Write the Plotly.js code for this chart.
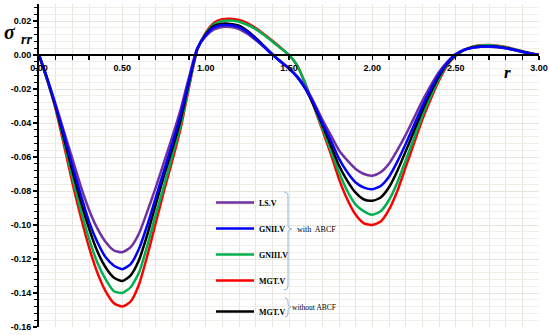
<!DOCTYPE html>
<html>
<head>
<meta charset="utf-8">
<script src="https://cdn.plot.ly/plotly-3.0.1.min.js"></script>
<style>html,body{margin:0;padding:0;background:#fff;}#chart{width:550px;height:335px;}</style>
</head>
<body>
<div id="chart"></div>
<script>
// radial positions r
const rVals = [0,0.05,0.1,0.15,0.2,0.25,0.3,0.35,0.4,0.45,0.5,0.55,0.6,0.65,0.7,0.75,0.8,0.85,0.9,0.95,1,1.05,1.1,1.15,1.2,1.25,1.3,1.35,1.4,1.45,1.5,1.55,1.6,1.65,1.7,1.75,1.8,1.85,1.9,1.95,2,2.05,2.1,2.15,2.2,2.25,2.3,2.35,2.4,2.45,2.5,2.55,2.6,2.65,2.7,2.75,2.8,2.85,2.9,2.95,3];

const lsV = [0,-0.014,-0.029,-0.045,-0.061,-0.077,-0.091,-0.102,-0.110,-0.115,-0.116,-0.113,-0.105,-0.092,-0.078,-0.063,-0.048,-0.032,-0.013,0.004,0.011,0.015,0.0165,0.0164,0.0153,0.0125,0.0088,0.0046,0.0002,-0.0038,-0.0077,-0.0125,-0.019,-0.028,-0.038,-0.047,-0.056,-0.062,-0.067,-0.070,-0.071,-0.069,-0.064,-0.056,-0.047,-0.037,-0.027,-0.018,-0.010,-0.004,0.0005,0.003,0.0042,0.0048,0.0049,0.0046,0.0039,0.0029,0.0018,0.0008,0];

const gn2V = [0,-0.014,-0.030,-0.047,-0.065,-0.082,-0.098,-0.110,-0.119,-0.124,-0.126,-0.123,-0.114,-0.100,-0.084,-0.068,-0.052,-0.035,-0.015,0.004,0.0116,0.0162,0.0176,0.0175,0.0164,0.0135,0.0095,0.005,0.0003,-0.004,-0.008,-0.013,-0.020,-0.029,-0.040,-0.050,-0.061,-0.069,-0.075,-0.078,-0.079,-0.077,-0.0716,-0.0627,-0.0523,-0.0412,-0.0301,-0.0202,-0.0114,-0.0046,0.0003,0.003,0.0043,0.0049,0.005,0.0047,0.004,0.003,0.0019,0.0008,0];

const gn3V = [0,-0.015,-0.031,-0.051,-0.072,-0.091,-0.108,-0.122,-0.132,-0.139,-0.140,-0.1366,-0.128,-0.112,-0.094,-0.077,-0.059,-0.041,-0.018,0.0035,0.0125,0.0181,0.020,0.0203,0.0196,0.0178,0.0152,0.0118,0.008,0.004,0,-0.0062,-0.0175,-0.030,-0.043,-0.056,-0.069,-0.080,-0.088,-0.092,-0.094,-0.0919,-0.0853,-0.075,-0.062,-0.0489,-0.0357,-0.0243,-0.0139,-0.0055,-0.0003,0.0029,0.0048,0.0056,0.0057,0.0053,0.0045,0.0034,0.0021,0.0009,0];

const mgtV = [0,-0.015,-0.032,-0.053,-0.075,-0.095,-0.113,-0.128,-0.139,-0.146,-0.148,-0.145,-0.135,-0.118,-0.099,-0.080,-0.062,-0.043,-0.019,0.003,0.013,0.019,0.021,0.0213,0.0206,0.0187,0.0158,0.0122,0.0084,0.0043,0,-0.0062,-0.0175,-0.0305,-0.044,-0.058,-0.073,-0.085,-0.094,-0.099,-0.100,-0.098,-0.091,-0.080,-0.066,-0.052,-0.038,-0.026,-0.015,-0.006,-0.0005,0.0028,0.0049,0.0057,0.0059,0.0055,0.0047,0.0035,0.0022,0.001,0];

const mgtNoABCF = [0,-0.0145,-0.0306,-0.049,-0.068,-0.086,-0.102,-0.1155,-0.125,-0.131,-0.133,-0.1296,-0.1206,-0.1055,-0.088,-0.071,-0.055,-0.038,-0.016,0.0035,0.012,0.0171,0.0184,0.0183,0.0172,0.0142,0.010,0.0053,0.0005,-0.0038,-0.0079,-0.013,-0.020,-0.030,-0.041,-0.053,-0.065,-0.074,-0.081,-0.085,-0.0857,-0.0838,-0.0778,-0.0682,-0.0567,-0.0447,-0.0326,-0.0221,-0.0126,-0.005,0,0.003,0.0045,0.0051,0.0052,0.0049,0.0042,0.0031,0.002,0.0009,0];

const seriesNames = ['LS.V','GNII.V','GNIII.V','MGT.V','MGT.V'];
const xTickVals = [0,0.5,1,1.5,2,2.5,3];
const xTickText = ['0.00','0.50','1.00','1.50','2.00','2.50','3.00'];
const yTickVals = [0.02,0,-0.02,-0.04,-0.06,-0.08,-0.10,-0.12,-0.14,-0.16];
const yTickText = ['0.02','0.00','-0.02','-0.04','-0.06','-0.08','-0.10','-0.12','-0.14','-0.16'];

const yMin = -0.16, yMax = 0.03;
// layout geometry (pixels)
const L = 39, T = 4, W = 500, H = 323, B = T + H;
function P(px, py){ return ((px - L) / W).toFixed(4) + ',' + ((B - py) / H).toFixed(4); }
function brace(x0, yTop, yBot, yTip, w){
  const m = x0 + w / 2, r = 4;
  return 'M' + P(x0, yTop) + ' Q' + P(m, yTop) + ' ' + P(m, yTop + r) +
         ' L' + P(m, yTip - r) + ' Q' + P(m, yTip) + ' ' + P(x0 + w, yTip) +
         ' Q' + P(m, yTip) + ' ' + P(m, yTip + r) +
         ' L' + P(m, yBot - r) + ' Q' + P(m, yBot) + ' ' + P(x0, yBot);
}
function note(px, py, text, font){
  return {xref: 'paper', yref: 'paper', x: (px - L) / W, y: (B - py) / H, text: text,
          showarrow: false, xanchor: 'center', yanchor: 'middle', font: font};
}

function tr(y, name, color, rank, legend, grp){
  return {x: rVals, y: y, name: name, type: 'scatter', mode: 'lines',
    line: {color: color, width: 2.5, shape: 'spline', smoothing: 0.6},
    legendrank: rank, legend: legend, legendgroup: grp, hoverinfo: 'skip'};
}

const data = [
  tr(mgtV, seriesNames[3], '#ff0000', 4, 'legend', 'g4'),
  tr(gn3V, seriesNames[2], '#00b050', 3, 'legend', 'g3'),
  tr(mgtNoABCF, seriesNames[4], '#000000', 5, 'legend2', 'g5'),
  tr(lsV, seriesNames[0], '#7030a0', 1, 'legend', 'g1'),
  tr(gn2V, seriesNames[1], '#0000ff', 2, 'legend', 'g2')
];

const tickFont = {family: 'Liberation Sans, Arial, sans-serif', size: 9, color: '#000', weight: 'bold'};
const gridCol = '#e6e6de';
const legFont = {family: 'Liberation Serif, Times New Roman, serif', size: 8, color: '#000', weight: 'bold'};

const layout = {
  width: 550, height: 335,
  margin: {l: L, r: 550 - L - W, t: T, b: 335 - B, pad: 0},
  paper_bgcolor: '#fff', plot_bgcolor: '#fff',
  showlegend: true,
  xaxis: {
    range: [0, 3], anchor: 'free', position: (0 - yMin) / (yMax - yMin),
    tickmode: 'array', tickvals: xTickVals, ticktext: xTickText,
    tickfont: tickFont, ticks: 'outside', ticklen: 4, tickwidth: 1.5, tickcolor: '#000',
    showline: true, linecolor: '#000', linewidth: 2,
    showgrid: true, gridcolor: gridCol, gridwidth: 1, zeroline: false,
    minor: {dtick: 0.1, tick0: 0, ticks: 'outside', ticklen: 4, tickwidth: 1.5, tickcolor: '#000', showgrid: true, gridcolor: gridCol, gridwidth: 1},
    fixedrange: true
  },
  yaxis: {
    range: [yMin, yMax],
    tickmode: 'array', tickvals: yTickVals, ticktext: yTickText,
    tickfont: tickFont, ticks: 'outside', ticklen: 4, tickwidth: 1.5, tickcolor: '#000',
    showline: true, linecolor: '#000', linewidth: 2,
    showgrid: true, gridcolor: gridCol, gridwidth: 1, zeroline: false,
    minor: {dtick: 0.004, tick0: 0, ticks: 'outside', ticklen: 3, tickwidth: 1.2, tickcolor: '#000', showgrid: true, gridcolor: '#efefe8', gridwidth: 1},
    fixedrange: true
  },
  legend: {
    x: (211 - L) / W, y: (B - 188) / H, xanchor: 'left', yanchor: 'top',
    bgcolor: 'rgba(0,0,0,0)', borderwidth: 0, font: legFont,
    tracegroupgap: 7, itemwidth: 38, traceorder: 'grouped'
  },
  legend2: {
    x: (211 - L) / W, y: (B - 297) / H, xanchor: 'left', yanchor: 'top',
    bgcolor: 'rgba(0,0,0,0)', borderwidth: 0, font: legFont, itemwidth: 38
  },
  shapes: [
    {type: 'rect', xref: 'paper', yref: 'paper', x0: (205 - L) / W, x1: (345 - L) / W, y0: (B - 333) / H, y1: (B - 183) / H,
     fillcolor: '#ffffff', line: {width: 0}, layer: 'between'},
    {type: 'path', xref: 'paper', yref: 'paper', path: brace(284, 192, 290, 229, 8), line: {color: '#8fb8dc', width: 1}},
    {type: 'path', xref: 'paper', yref: 'paper', path: brace(285, 298, 317, 307, 6), line: {color: '#8fb8dc', width: 1}}
  ],
  annotations: [
    note(316, 229, 'with  ABCF', {family: 'Liberation Serif, serif', size: 8, color: '#000'}),
    note(314, 307, 'without ABCF', {family: 'Liberation Serif, serif', size: 7.5, color: '#000'}),
    note(10, 32, 'σ', {family: 'Liberation Serif, serif', size: 20, color: '#000', style: 'italic', weight: 'bold'}),
    note(26, 40, 'rr', {family: 'Liberation Serif, serif', size: 14, color: '#000', style: 'italic', weight: 'bold'}),
    note(507, 72, 'r', {family: 'Liberation Serif, serif', size: 17, color: '#000', style: 'italic', weight: 'bold'})
  ]
};

Plotly.newPlot('chart', data, layout, {displayModeBar: false, staticPlot: true});
</script>
</body>
</html>
